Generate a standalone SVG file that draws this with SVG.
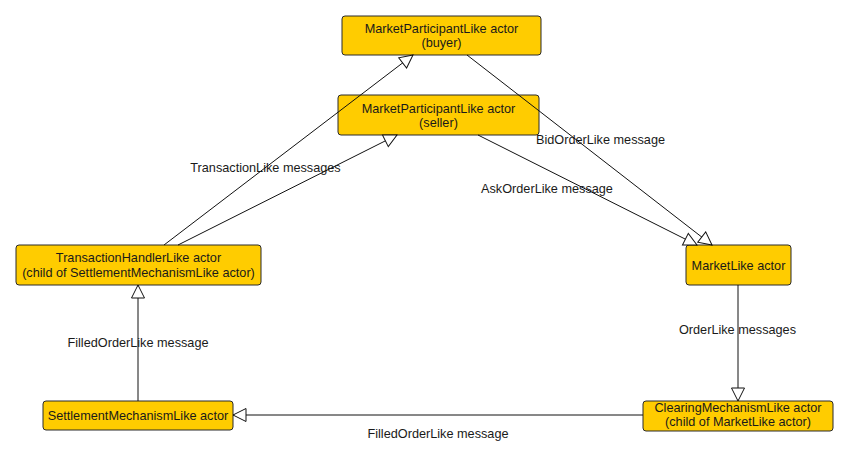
<svg xmlns="http://www.w3.org/2000/svg" width="849" height="458" viewBox="0 0 849 458">
<style>
.node rect{fill:#FFCC00;stroke:#2a2a2a;stroke-width:1}
text{font-family:"Liberation Sans",Arial,sans-serif;font-size:12.7px;fill:#1a1a1a;text-anchor:middle}
.edges line{stroke:#111;stroke-width:1;fill:none;marker-end:url(#tri)}
</style>
<defs>
<marker id="tri" markerUnits="userSpaceOnUse" markerWidth="16" markerHeight="16" viewBox="-14 -8 16 16" refX="0" refY="0" orient="auto">
<path d="M0,0 L-13,-6.5 L-13,6.5 Z" fill="#fff" stroke="#111" stroke-width="1"/>
</marker>
</defs>
<rect width="849" height="458" fill="#fff"/>
<g class="node" id="buyer">
<rect x="342" y="16" width="199" height="39" rx="3"/>
<text x="441.5" y="33">MarketParticipantLike actor</text>
<text x="441.5" y="47">(buyer)</text>
</g>
<g class="node" id="seller">
<rect x="338" y="95" width="201" height="40" rx="3"/>
<text x="438.5" y="113">MarketParticipantLike actor</text>
<text x="438.5" y="127">(seller)</text>
</g>
<g class="node" id="transactionHandler">
<rect x="16" y="245" width="245" height="40" rx="3"/>
<text x="138.5" y="262">TransactionHandlerLike actor</text>
<text x="138.5" y="277">(child of SettlementMechanismLike actor)</text>
</g>
<g class="node" id="settlement">
<rect x="43" y="401" width="190" height="29" rx="3"/>
<text x="138" y="420">SettlementMechanismLike actor</text>
</g>
<g class="node" id="market">
<rect x="686" y="245" width="105" height="40" rx="3"/>
<text x="738.5" y="269.5">MarketLike actor</text>
</g>
<g class="node" id="clearing">
<rect x="643" y="401" width="190" height="30" rx="3"/>
<text x="738" y="412">ClearingMechanismLike actor</text>
<text x="738" y="426">(child of MarketLike actor)</text>
</g>
<g class="edges" id="connectors">
<line x1="164" y1="245" x2="413" y2="55"/>
<line x1="178" y1="245" x2="397" y2="135"/>
<line x1="467" y1="55" x2="712" y2="245"/>
<line x1="478" y1="135" x2="697" y2="245"/>
<line x1="738" y1="285" x2="738" y2="401"/>
<line x1="643" y1="415" x2="233" y2="415"/>
<line x1="138" y1="401" x2="138" y2="285"/>
</g>
<g id="labels">
<text x="265.5" y="172">TransactionLike messages</text>
<text x="600.5" y="144">BidOrderLike message</text>
<text x="547" y="193">AskOrderLike message</text>
<text x="438" y="438">FilledOrderLike message</text>
<text x="138" y="347">FilledOrderLike message</text>
<text x="737.5" y="334">OrderLike messages</text>
</g>
</svg>
